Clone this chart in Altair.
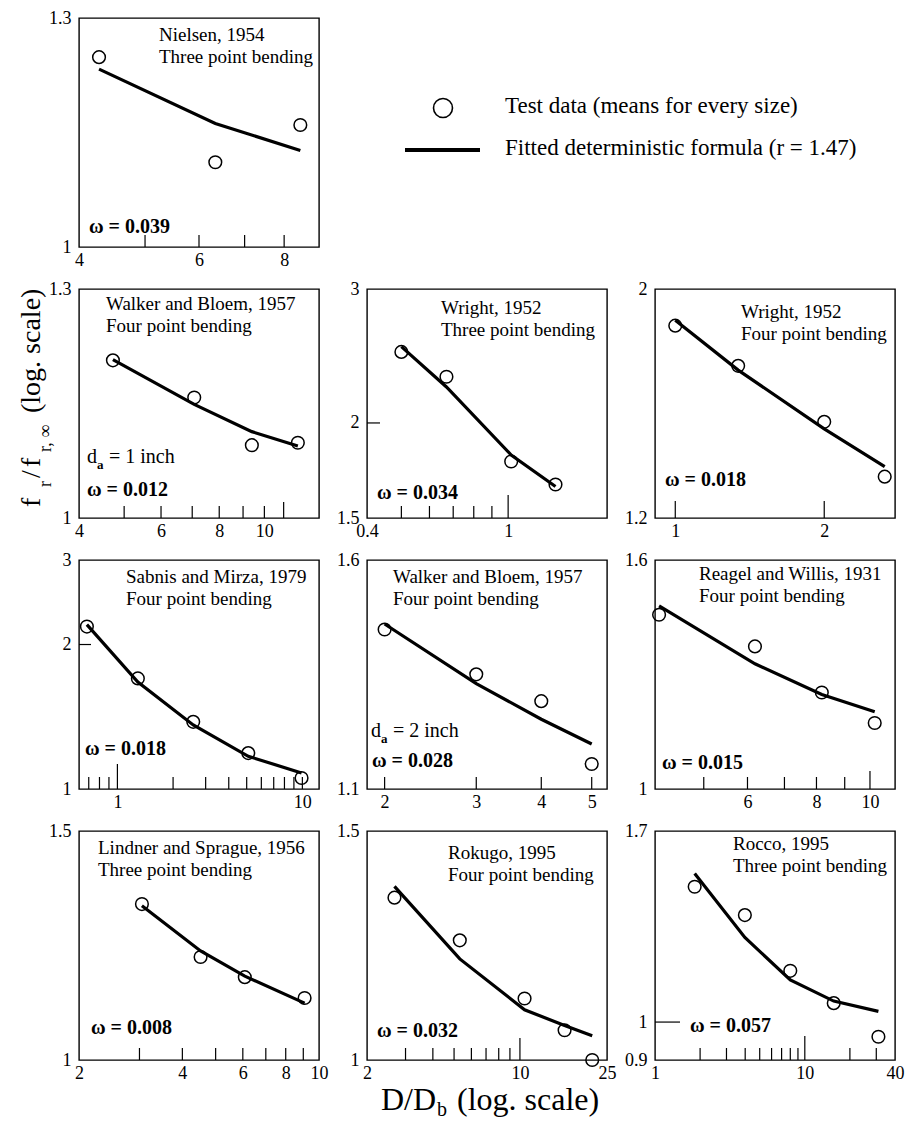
import altair as alt
import pandas as pd

FONT = "Liberation Serif"
W, H = 240, 229

# ---------------- data ----------------
nielsen_x = [4.28, 6.34, 8.45]
nielsen_test = [1.243, 1.102, 1.150]
nielsen_fit = [1.226, 1.152, 1.117]

wb1_x = [4.73, 7.07, 9.40, 11.8]
wb1_test = [1.198, 1.148, 1.087, 1.090]
wb1_fit = [1.199, 1.139, 1.104, 1.086]

wr3_x = [0.50, 0.67, 1.02, 1.36]
wr3_test = [2.48, 2.30, 1.78, 1.66]
wr3_fit = [2.52, 2.23, 1.815, 1.65]

wr4_x = [1.0, 1.34, 2.0, 2.65]
wr4_test = [1.843, 1.685, 1.487, 1.316]
wr4_fit = [1.865, 1.669, 1.464, 1.346]

sab_x = [0.684, 1.29, 2.57, 5.10, 9.9]
sab_test = [2.18, 1.70, 1.38, 1.188, 1.054]
sab_fit = [2.20, 1.67, 1.36, 1.17, 1.08]

wb2_x = [2, 3, 4, 5]
wb2_test = [1.428, 1.327, 1.27, 1.146]
wb2_fit = [1.441, 1.307, 1.233, 1.184]

rea_x = [4.15, 6.19, 8.18, 10.2]
rea_test = [1.43, 1.34, 1.219, 1.145]
rea_fit = [1.456, 1.293, 1.214, 1.172]

lin_x = [3.05, 4.52, 6.08, 9.08]
lin_test = [1.318, 1.20, 1.158, 1.116]
lin_fit = [1.314, 1.213, 1.16, 1.106]

rok_x = [2.67, 5.31, 10.5, 16.0, 21.4]
rok_test = [1.333, 1.236, 1.115, 1.054, 1.0]
rok_fit = [1.36, 1.196, 1.093, 1.063, 1.044]

roc_x = [1.84, 3.98, 8.0, 15.6, 31]
roc_test = [1.456, 1.346, 1.153, 1.054, 0.96]
roc_fit = [1.511, 1.265, 1.124, 1.06, 1.03]

ONE = pd.DataFrame({"k": [0]})


def txt(s, x, y, size=19, weight="normal", align="left", baseline="middle", angle=None):
    kw = dict(font=FONT, fontSize=size, fontWeight=weight, align=align,
              baseline=baseline, color="black")
    if angle is not None:
        kw["angle"] = angle
    return alt.Chart(ONE).mark_text(**kw).encode(
        x=alt.value(x), y=alt.value(y), text=alt.value(s))


def panel(p, extra=()):
    xs = alt.Scale(type="log", domain=p["xdom"], nice=False)
    ys = alt.Scale(type="log", domain=p["ydom"], nice=False)
    common = dict(format="~g", ticks=False, domain=False, grid=False, labelFlush=False,
                  labelOverlap=False, title=None, labelFont=FONT, labelFontSize=18,
                  labelColor="black")
    xax = alt.Axis(values=p["xlab"], labelPadding=4, **common)
    yax = alt.Axis(values=p["ylab"], labelPadding=8, **common)
    df = pd.DataFrame({"x": p["x"], "test": p["test"], "fit": p["fit"]})
    X = alt.X("x:Q", scale=xs, axis=xax)
    layers = [
        alt.Chart(df).mark_line(color="black", strokeWidth=3.2).encode(
            x=X, y=alt.Y("fit:Q", scale=ys, axis=yax)),
        alt.Chart(df).mark_point(shape="circle", filled=False, color="black", size=160,
                                 strokeWidth=1.5, opacity=1).encode(
            x=X, y=alt.Y("test:Q", scale=ys, axis=yax)),
    ]
    for vals, ln in p["ticks"]:
        tdf = pd.DataFrame({"t": vals})
        layers.append(alt.Chart(tdf).mark_rule(color="black", strokeWidth=1.2).encode(
            x=alt.X("t:Q", scale=xs, axis=xax), y=alt.value(H), y2=alt.value(H - ln)))
    if "ytick" in p:
        v, ln = p["ytick"]
        ydf = pd.DataFrame({"t": [v]})
        layers.append(alt.Chart(ydf).mark_rule(color="black", strokeWidth=1.2).encode(
            y=alt.Y("t:Q", scale=ys, axis=yax), x=alt.value(0), x2=alt.value(ln)))
    t1, t2 = p["title"]
    layers.append(txt(t1, p["tdx"], p["ty"]))
    layers.append(txt(t2, p["tdx"], p["ty"] + 22))
    layers.append(txt(p["omega"], p["odx"], p["oy"], size=20, weight="bold"))
    if "da" in p:
        dx, dy = p["dapos"]
        layers.append(txt("d", dx, dy + 6, size=20, baseline="alphabetic"))
        layers.append(txt("a", dx + 10, dy + 12, size=13, weight="bold", baseline="alphabetic"))
        layers.append(txt("= " + p["da"], dx + 22, dy + 6, size=20, baseline="alphabetic"))
    layers.extend(extra)
    return alt.layer(*layers).properties(width=W, height=H)


P = {
    "nielsen": dict(x=nielsen_x, test=nielsen_test, fit=nielsen_fit, xdom=[4, 9], ydom=[1, 1.3],
                    xlab=[4, 6, 8], ylab=[1, 1.3], ticks=[([5, 6, 7, 8], 12)],
                    title=("Nielsen, 1954", "Three point bending"), tdx=80, ty=17,
                    omega="ω = 0.039", odx=10, oy=H - 20),
    "wb1": dict(x=wb1_x, test=wb1_test, fit=wb1_fit, xdom=[4, 13.1], ydom=[1, 1.3],
                xlab=[4, 6, 8, 10], ylab=[1, 1.3], ticks=[([5, 6, 7, 8, 9, 10], 12), ([11], 16)],
                title=("Walker and Bloem, 1957", "Four point bending"), tdx=27, ty=15,
                omega="ω = 0.012", odx=8, oy=H - 28, da="1 inch", dapos=(8, H - 61)),
    "wr3": dict(x=wr3_x, test=wr3_test, fit=wr3_fit, xdom=[0.4, 1.9], ydom=[1.5, 3],
                xlab=[0.4, 1], ylab=[1.5, 2, 3],
                ticks=[([0.5, 0.6, 0.7, 0.8, 0.9], 12), ([1], 23)], ytick=(2, 13),
                title=("Wright, 1952", "Three point bending"), tdx=74, ty=19,
                omega="ω = 0.034", odx=10, oy=H - 25),
    "wr4": dict(x=wr4_x, test=wr4_test, fit=wr4_fit, xdom=[0.91, 2.78], ydom=[1.2, 2],
                xlab=[1, 2], ylab=[1.2, 2], ticks=[([1, 2], 17)],
                title=("Wright, 1952", "Four point bending"), tdx=86, ty=23,
                omega="ω = 0.018", odx=10, oy=H - 38),
    "sab": dict(x=sab_x, test=sab_test, fit=sab_fit, xdom=[0.62, 12.3], ydom=[1, 3],
                xlab=[1, 10], ylab=[1, 2, 3],
                ticks=[([0.7, 0.8, 0.9, 2, 3, 4, 5, 6, 7, 8, 9, 10], 12), ([1], 25)], ytick=(2, 12),
                title=("Sabnis and Mirza, 1979", "Four point bending"), tdx=47, ty=17,
                omega="ω = 0.018", odx=6, oy=H - 40),
    "wb2": dict(x=wb2_x, test=wb2_test, fit=wb2_fit, xdom=[1.85, 5.35], ydom=[1.1, 1.6],
                xlab=[2, 3, 4, 5], ylab=[1.1, 1.6], ticks=[([2, 3, 4, 5], 12)],
                title=("Walker and Bloem, 1957", "Four point bending"), tdx=26, ty=17,
                omega="ω = 0.028", odx=5, oy=H - 28, da="2 inch", dapos=(4, H - 58)),
    "rea": dict(x=rea_x, test=rea_test, fit=rea_fit, xdom=[4.08, 11.1], ydom=[1, 1.6],
                xlab=[4, 6, 8, 10], ylab=[1, 1.6], ticks=[([5, 6, 7, 8, 9], 12), ([10], 18)],
                title=("Reagel and Willis, 1931", "Four point bending"), tdx=44, ty=14,
                omega="ω = 0.015", odx=7, oy=H - 26),
    "lin": dict(x=lin_x, test=lin_test, fit=lin_fit, xdom=[2, 10], ydom=[1, 1.5],
                xlab=[2, 4, 6, 8, 10], ylab=[1, 1.5], ticks=[([3, 4, 5, 6, 7, 8, 9], 12)],
                title=("Lindner and Sprague, 1956", "Three point bending"), tdx=19, ty=17,
                omega="ω = 0.008", odx=12, oy=H - 32),
    "rok": dict(x=rok_x, test=rok_test, fit=rok_fit, xdom=[2, 25], ydom=[1, 1.5],
                xlab=[2, 10, 25], ylab=[1, 1.5], ticks=[([3, 4, 5, 6, 7, 8, 9], 12), ([10], 22)],
                title=("Rokugo, 1995", "Four point bending"), tdx=81, ty=22,
                omega="ω = 0.032", odx=10, oy=H - 29),
    "roc": dict(x=roc_x, test=roc_test, fit=roc_fit, xdom=[1, 40], ydom=[0.9, 1.7],
                xlab=[1, 10, 40], ylab=[0.9, 1, 1.7],
                ticks=[([2, 3, 4, 5, 6, 7, 8, 9, 20, 30], 12), ([10], 24)], ytick=(1, 25),
                title=("Rocco, 1995", "Three point bending"), tdx=78, ty=13,
                omega="ω = 0.057", odx=35, oy=H - 34),
}

# global y title (placed with the row-2, column-1 panel)
ytitle = [
    txt("f", -39, 218, size=28, baseline="alphabetic", angle=270),
    txt("r", -28, 198, size=18, baseline="alphabetic", angle=270),
    txt("/", -39, 189, size=28, baseline="alphabetic", angle=270),
    txt("f", -39, 178, size=28, baseline="alphabetic", angle=270),
    txt("r, ∞", -28, 163, size=18, baseline="alphabetic", angle=270),
    txt("(log. scale)", -39, 124, size=28, baseline="alphabetic", angle=270),
]
# global x title (placed with the row-4, column-2 panel)
xtitle = [
    txt("D/D", 14, 279, size=32, baseline="alphabetic"),
    txt("b", 70, 285, size=20, baseline="alphabetic"),
    txt("(log. scale)", 90, 279, size=32, baseline="alphabetic"),
]

blank_view = alt.ViewBackground(stroke="transparent")
legend = alt.layer(
    alt.Chart(ONE).mark_point(shape="circle", filled=False, color="black", size=360,
                              strokeWidth=1.6, opacity=1).encode(x=alt.value(76), y=alt.value(90)),
    alt.Chart(ONE).mark_rule(color="black", strokeWidth=4).encode(
        x=alt.value(38), x2=alt.value(113), y=alt.value(132)),
    txt("Test data (means for every size)", 138, 88, size=23),
    txt("Fitted deterministic formula (r = 1.47)", 138, 130, size=23),
).properties(width=W, height=H, view=blank_view)

empty = txt("", 0, 0).properties(width=W, height=H, view=blank_view)

chart = alt.concat(
    panel(P["nielsen"]), legend, empty,
    panel(P["wb1"], ytitle), panel(P["wr3"]), panel(P["wr4"]),
    panel(P["sab"]), panel(P["wb2"]), panel(P["rea"]),
    panel(P["lin"]), panel(P["rok"], xtitle), panel(P["roc"]),
    columns=3,
).properties(
    bounds="flush",
    spacing={"row": 42, "column": 48},
    padding={"left": 9, "top": 0, "right": 2, "bottom": 0},
    background="white",
).configure_view(
    stroke="black", strokeWidth=1.4
).configure_axis(
    labelFont=FONT, labelFontSize=18, labelColor="black"
)

chart.save("out.html", embed_options={"renderer": "svg", "actions": False})
